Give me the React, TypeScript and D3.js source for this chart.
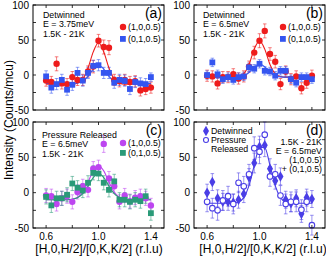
import React from 'react';
import * as d3 from 'd3';

// momentum transfer positions (r.l.u)
const qValues = [0.6, 0.64, 0.68, 0.72, 0.76, 0.8, 0.84, 0.88, 0.92, 0.96, 1.0, 1.04, 1.08, 1.12, 1.16, 1.2, 1.24, 1.28, 1.32, 1.36, 1.4];

// (a) detwinned, E = 3.75meV
const aRed = [-8, -10, 16, -12, -13, -3, -7, -7, 5, 12, 49, 40, 39, -7, -9, -7, -10, -9, -22, -20, -18];
const aRedErr = [8, 8, 10, 8, 8, 8, 8, 8, 8, 9, 9, 10, 10, 8, 8, 8, 8, 8, 8, 8, 8];
const aBlue = [-2, -18, -13, -7, -21, -14, 3, -8, 3, 13, 14, 3, 3, -11, -7, -8, -20, -10, -12, -13, -3];
const aBlueErr = [8, 8, 8, 8, 8, 8, 8, 8, 8, 8, 8, 8, 8, 8, 8, 8, 8, 8, 8, 8, 6];
const aRedFit = [-13, -13, -13, -13, -13, -13, -11.7, -6, 10, 33, 46, 33, 10, -6, -11.7, -13, -13, -13, -13, -13, -13];
const aBlueFit = [-12, -12, -12, -12, -12, -12, -11.4, -9, -2, 8.5, 14, 8.5, -2, -9, -11.4, -12, -12, -12, -12, -12, -12];

// (b) detwinned, E = 6.5meV
const bRed = [-1, -2, -12, -3, -3, 1, -5, -2, 12, 32, 49, 63, 30, 19, -13, 5, -6, -2, -19, -11, -1];
const bRedErr = [8, 8, 8, 8, 8, 8, 8, 8, 8, 9, 10, 10, 9, 9, 8, 8, 8, 8, 8, 8, 8];
const bBlue = [0, 18, 1, -6, -3, -7, -3, -2, 11, 9, 16, 6, 5, -1, 6, 6, -6, -11, -3, -3, -6];
const bBlueErr = [6, 6, 6, 6, 6, 6, 6, 6, 6, 6, 6, 6, 6, 6, 6, 6, 6, 6, 6, 6, 6];
const bRedFit = [-3, -3, -3, -3, -3, -3, -2.2, 1.8, 15, 37, 49, 37, 15, 1.8, -2.2, -3, -3, -3, -3, -3, -3];
const bBlueFit = [-3, -3, -3, -3, -3, -3, -2.7, -1.2, 3.6, 11.6, 16, 11.6, 3.6, -1.2, -2.7, -3, -3, -3, -3, -3, -3];

// (c) pressure released, E = 6.5meV
const cMag = [-4, -5, -16, -8, -5, -13, 1, 9, 4, 34, 36, 69, 20, 9, -13, -4, -12, -7, -5, -8, -18];
const cMagErr = [10, 10, 10, 10, 10, 10, 10, 10, 10, 10, 10, 12, 10, 10, 10, 10, 10, 10, 10, 10, 10];
const cGreen = [-6, -18, -8, -8, -3, 13, 7, 3, 14, 28, 27, 14, 4, 16, -10, -10, -13, -10, -12, -5, -29];
const cGreenErr = [10, 10, 10, 10, 10, 10, 10, 10, 10, 10, 10, 10, 10, 10, 10, 10, 10, 10, 10, 10, 10];
const cMagFit = [-10, -10, -10, -10, -10, -9.2, -6.5, 1, 15, 30.8, 38, 30.8, 15, 1, -6.5, -9.2, -10, -10, -10, -10, -10];
const cGreenFit = [-10, -10, -10, -10, -10, -9.4, -7.3, -1.5, 9.2, 21.4, 27, 21.4, 9.2, -1.5, -7.3, -9.4, -10, -10, -10, -10, -10];

// (d) (1,0,0.5)+(0,1,0.5), detwinned vs pressure released
const dDet = [0, 15, -8, -13, -13, -14, -10, -2, 22, 42, 65, 67, 34, 17, 23, -10, -15, -8, -30, -7, -9];
const dDetErr = [12, 12, 12, 12, 12, 12, 12, 12, 12, 14, 15, 16, 14, 12, 12, 12, 12, 12, 12, 12, 12];
const dRel = [-13, -22, -25, -11, -5, -16, 14, 9, 26, 63, 58, 82, 23, 26, -4, -16, -13, -13, -24, -13, -46];
const dRelErr = [14, 14, 14, 14, 14, 14, 14, 14, 14, 16, 17, 18, 14, 14, 14, 14, 14, 14, 14, 14, 14];
const dFit = [-15, -15, -15, -15, -15, -14.7, -13.2, -7, 10, 38.5, 64, 64, 38.5, 10, -7, -13.2, -14.6, -15, -15, -15, -15];

const xTicks = [0.6, 0.8, 1.0, 1.2, 1.4];
const xTickLabels = [0.6, 1.0, 1.4];
const yTicks = [-50, -25, 0, 25, 50, 75, 100];
const yTickLabels = [-50, 0, 50, 100];

const FONT = "Arial, 'Liberation Sans', Helvetica, sans-serif";

type Series = {
  values: number[];
  errors: number[];
  color: string;
  marker: 'circle' | 'square' | 'diamond' | 'open';
};

type PanelProps = {
  left: number; right: number; top: number; bottom: number;
  series: Series[];
  fits: { values: number[]; color: string }[];
  showXLabels: boolean;
  children?: React.ReactNode;
};

function Marker({ x, y, s }: { x: number; y: number; s: Series }) {
  if (s.marker === 'circle') return <circle cx={x} cy={y} r={3.2} fill={s.color} />;
  if (s.marker === 'open') return <circle cx={x} cy={y} r={2.8} fill="white" stroke={s.color} strokeWidth={1.1} />;
  if (s.marker === 'square') return <rect x={x - 2.9} y={y - 2.9} width={5.8} height={5.8} fill={s.color} />;
  return <path d={d3.symbol(d3.symbolDiamond, 32)()!} transform={`translate(${x},${y})`} fill={s.color} />;
}

function Panel({ left, right, top, bottom, series, fits, showXLabels, children }: PanelProps) {
  const x = d3.scaleLinear().domain([0.5, 1.5]).range([left, right]);
  const y = d3.scaleLinear().domain([-50, 100]).range([bottom, top]);
  const line = d3.line<number>()
    .x((_, i) => x(qValues[i]))
    .y(d => y(d))
    .curve(d3.curveMonotoneX);

  return (
    <g>
      {/* error bars first, then fit lines, then markers */}
      {series.map((s, si) => (
        <g key={'e' + si} stroke={s.color} strokeOpacity={0.55} strokeWidth={1}>
          {s.values.map((v, i) => {
            const px = x(qValues[i]);
            const y0 = y(v - s.errors[i]);
            const y1 = y(v + s.errors[i]);
            return (
              <g key={i}>
                <line x1={px} x2={px} y1={y0} y2={y1} />
                <line x1={px - 1.8} x2={px + 1.8} y1={y0} y2={y0} />
                <line x1={px - 1.8} x2={px + 1.8} y1={y1} y2={y1} />
              </g>
            );
          })}
        </g>
      ))}
      {fits.map((f, fi) => (
        <path key={'f' + fi} d={line(f.values)!} fill="none" stroke={f.color} strokeWidth={1.1} />
      ))}
      {series.map((s, si) => (
        <g key={'m' + si}>
          {s.values.map((v, i) => <Marker key={i} x={x(qValues[i])} y={y(v)} s={s} />)}
        </g>
      ))}
      <rect x={left} y={top} width={right - left} height={bottom - top} fill="none" stroke="#000" strokeWidth={1} />
      <g stroke="#000" strokeWidth={0.8}>
        {xTicks.map(t => (
          <g key={t}>
            <line x1={x(t)} x2={x(t)} y1={bottom} y2={bottom - 3} />
            <line x1={x(t)} x2={x(t)} y1={top} y2={top + 3} />
          </g>
        ))}
        {yTicks.map(t => (
          <g key={t}>
            <line x1={left} x2={left + 3} y1={y(t)} y2={y(t)} />
            <line x1={right} x2={right - 3} y1={y(t)} y2={y(t)} />
          </g>
        ))}
      </g>
      <g fontFamily={FONT} fontSize={10} fill="#000">
        {yTickLabels.map(t => (
          <text key={t} x={left - 4} y={y(t) + 3.5} textAnchor="end">{t}</text>
        ))}
        {showXLabels && xTickLabels.map(t => (
          <text key={t} x={x(t)} y={bottom + 12} textAnchor="middle">{t.toFixed(1)}</text>
        ))}
      </g>
      {children}
    </g>
  );
}

const RED = '#ee1c1c';
const BLUE = '#3455f0';
const MAG = '#bd45f0';
const GREEN = '#2a9a78';
const VIOLET = '#4a3ee6';

export default function App() {
  const txt = { fontFamily: FONT, fontSize: 8.8, fill: '#000' };
  return (
    <svg width={326} height={256} style={{ position: 'absolute', left: 0, top: 0, background: '#fff' }}>
      <Panel left={33} right={164} top={5} bottom={110} showXLabels={false}
        series={[
          { values: aRed, errors: aRedErr, color: RED, marker: 'circle' },
          { values: aBlue, errors: aBlueErr, color: BLUE, marker: 'square' },
        ]}
        fits={[{ values: aRedFit, color: RED }, { values: aBlueFit, color: BLUE }]}>
        <text {...txt} x={43} y={17.5}>Detwinned</text>
        <text {...txt} x={43} y={27}>E = 3.75meV</text>
        <text {...txt} x={43} y={36.5}>1.5K - 21K</text>
        <text {...txt} fontSize={14} x={162} y={18} textAnchor="end">(a)</text>
        <circle cx={123} cy={27} r={3.2} fill={RED} />
        <text {...txt} x={128} y={30}>(1,0,0.5)</text>
        <rect x={120} y={36} width={5.8} height={5.8} fill={BLUE} />
        <text {...txt} x={128} y={42}>(0,1,0.5)</text>
      </Panel>
      <Panel left={194} right={325} top={5} bottom={110} showXLabels={false}
        series={[
          { values: bRed, errors: bRedErr, color: RED, marker: 'circle' },
          { values: bBlue, errors: bBlueErr, color: BLUE, marker: 'square' },
        ]}
        fits={[{ values: bRedFit, color: RED }, { values: bBlueFit, color: BLUE }]}>
        <text {...txt} x={203} y={17.5}>Detwinned</text>
        <text {...txt} x={203} y={27}>E = 6.5meV</text>
        <text {...txt} x={203} y={36.5}>1.5K - 21K</text>
        <text {...txt} fontSize={14} x={323} y={18} textAnchor="end">(b)</text>
        <circle cx={283} cy={27} r={3.2} fill={RED} />
        <text {...txt} x={288} y={30}>(1,0,0.5)</text>
        <rect x={280} y={36} width={5.8} height={5.8} fill={BLUE} />
        <text {...txt} x={288} y={42}>(0,1,0.5)</text>
      </Panel>
      <Panel left={33} right={164} top={122} bottom={228} showXLabels={true}
        series={[
          { values: cMag, errors: cMagErr, color: MAG, marker: 'circle' },
          { values: cGreen, errors: cGreenErr, color: GREEN, marker: 'square' },
        ]}
        fits={[{ values: cMagFit, color: MAG }, { values: cGreenFit, color: GREEN }]}>
        <text {...txt} x={42} y={137.5}>Pressure Released</text>
        <text {...txt} x={42} y={147}>E = 6.5meV</text>
        <text {...txt} x={42} y={156.5}>1.5K - 21K</text>
        <text {...txt} fontSize={14} x={162} y={135} textAnchor="end">(c)</text>
        <circle cx={123} cy={143} r={3.2} fill={MAG} />
        <text {...txt} x={128} y={146}>(1,0,0.5)</text>
        <rect x={120} y={150} width={5.8} height={5.8} fill={GREEN} />
        <text {...txt} x={128} y={156}>(0,1,0.5)</text>
      </Panel>
      <Panel left={194} right={325} top={122} bottom={228} showXLabels={true}
        series={[
          { values: dDet, errors: dDetErr, color: VIOLET, marker: 'diamond' },
          { values: dRel, errors: dRelErr, color: VIOLET, marker: 'open' },
        ]}
        fits={[{ values: dFit, color: VIOLET }]}>
        <path d={d3.symbol(d3.symbolDiamond, 32)()!} transform="translate(206,131)" fill={VIOLET} />
        <text {...txt} x={211} y={134}>Detwinned</text>
        <circle cx={206} cy={140} r={2.5} fill="white" stroke={VIOLET} strokeWidth={1.1} />
        <text {...txt} x={211} y={143}>Pressure</text>
        <text {...txt} x={211} y={152}>Released</text>
        <text {...txt} fontSize={14} x={323} y={135} textAnchor="end">(d)</text>
        <text {...txt} x={322} y={144.5} textAnchor="end">1.5K - 21K</text>
        <text {...txt} x={322} y={153.5} textAnchor="end">E = 6.5meV</text>
        <text {...txt} x={322} y={162.5} textAnchor="end">(1,0,0.5)</text>
        <text {...txt} x={322} y={171.5} textAnchor="end">+ (0,1,0.5)</text>
      </Panel>
      <text fontFamily={FONT} fontSize={12} x={99} y={253} textAnchor="middle">[H,0,H/2]/[0,K,K/2] (r.l.u)</text>
      <text fontFamily={FONT} fontSize={12} x={263} y={253} textAnchor="middle">[H,0,H/2]/[0,K,K/2] (r.l.u)</text>
      <text fontFamily={FONT} fontSize={12} transform="translate(13,120) rotate(-90)" textAnchor="middle">Intensity (Counts/mcu)</text>
    </svg>
  );
}
